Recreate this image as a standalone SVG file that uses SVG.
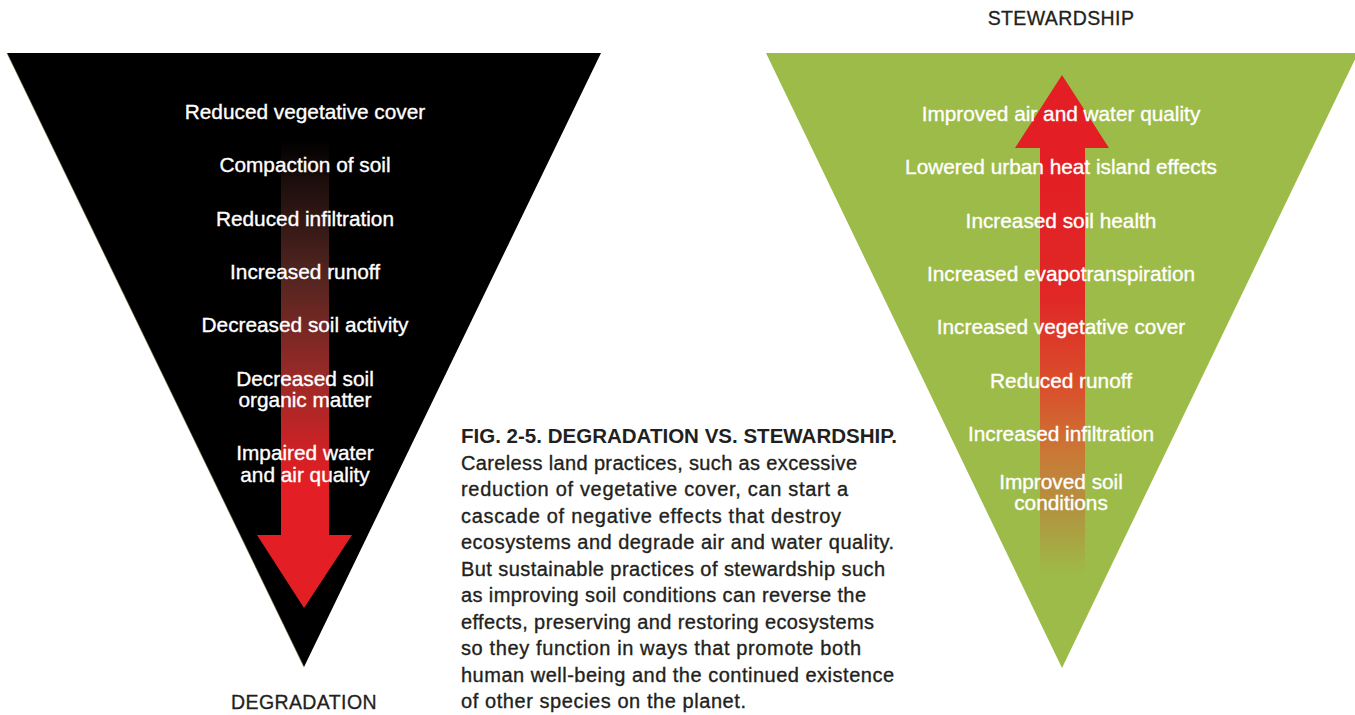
<svg xmlns="http://www.w3.org/2000/svg" width="1355" height="715" viewBox="0 0 1355 715">
<defs>
<linearGradient id="gDown" gradientUnits="userSpaceOnUse" x1="0" y1="140" x2="0" y2="480">
<stop offset="0" stop-color="#000000"/>
<stop offset="0.12" stop-color="#1c0e0c"/>
<stop offset="0.4" stop-color="#522520"/>
<stop offset="0.7" stop-color="#9a2a27"/>
<stop offset="1" stop-color="#e31e24"/>
</linearGradient>
<linearGradient id="gUp" gradientUnits="userSpaceOnUse" x1="0" y1="150" x2="0" y2="575">
<stop offset="0" stop-color="#e31e24"/>
<stop offset="0.35" stop-color="#e02826"/>
<stop offset="0.58" stop-color="#d8542c"/>
<stop offset="0.72" stop-color="#c97a36"/>
<stop offset="0.86" stop-color="#b09640"/>
<stop offset="1" stop-color="#9dbb48"/>
</linearGradient>
<style>
.lbl{font-family:"Liberation Sans",Arial,sans-serif;font-size:20.8px;fill:#ffffff;text-anchor:middle;stroke:#ffffff;stroke-width:0.35px}
.ttl{font-family:"Liberation Sans",Arial,sans-serif;font-size:19.5px;fill:#231f20;text-anchor:middle;stroke:#231f20;stroke-width:0.3px;letter-spacing:0.4px}
.cap{font-family:"Liberation Sans",Arial,sans-serif;font-size:20px;fill:#231f20;stroke:#231f20;stroke-width:0.35px}
.capb{font-family:"Liberation Sans",Arial,sans-serif;font-size:20px;font-weight:bold;fill:#231f20}
</style>
</defs>
<rect width="1355" height="715" fill="#ffffff"/>
<g id="degradation-triangle">
<polygon points="7,53 601,53 304,667" fill="#000000"/>
<line x1="7" y1="53" x2="304" y2="667" stroke="#7a6a3a" stroke-width="0.8" opacity="0.7"/>
</g>
<g id="stewardship-triangle">
<polygon points="766,53 1358,53 1062,668" fill="#9dbb48"/>
</g>
<g id="arrows">
<polygon points="281,140 329,140 329,535 352,535 304,608 257,535 281,535" fill="url(#gDown)"/>
<polygon points="1062,75 1109,148 1085,148 1085,575 1040,575 1040,148 1015,148" fill="url(#gUp)"/>
</g>
<g id="degradation-items">
<text class="lbl" x="305" y="119">Reduced vegetative cover</text>
<text class="lbl" x="305" y="172">Compaction of soil</text>
<text class="lbl" x="305" y="226">Reduced infiltration</text>
<text class="lbl" x="305" y="279">Increased runoff</text>
<text class="lbl" x="305" y="332">Decreased soil activity</text>
<text class="lbl" x="305" y="386">Decreased soil</text>
<text class="lbl" x="305" y="407">organic matter</text>
<text class="lbl" x="305" y="460">Impaired water</text>
<text class="lbl" x="305" y="482">and air quality</text>
</g>
<g id="stewardship-items">
<text class="lbl" x="1061" y="121">Improved air and water quality</text>
<text class="lbl" x="1061" y="174">Lowered urban heat island effects</text>
<text class="lbl" x="1061" y="228">Increased soil health</text>
<text class="lbl" x="1061" y="281">Increased evapotranspiration</text>
<text class="lbl" x="1061" y="334">Increased vegetative cover</text>
<text class="lbl" x="1061" y="388">Reduced runoff</text>
<text class="lbl" x="1061" y="441">Increased infiltration</text>
<text class="lbl" x="1061" y="489">Improved soil</text>
<text class="lbl" x="1061" y="510">conditions</text>
</g>
<g id="label-degradation"><text class="ttl" x="304" y="709">DEGRADATION</text></g>
<g id="label-stewardship"><text class="ttl" x="1061" y="25">STEWARDSHIP</text></g>
<g id="caption">
<text class="capb" x="461" y="443" textLength="436" lengthAdjust="spacingAndGlyphs">FIG. 2-5.  DEGRADATION VS. STEWARDSHIP.</text>
<text class="cap" x="461" y="470" textLength="396" lengthAdjust="spacing">Careless land practices, such as excessive</text>
<text class="cap" x="461" y="496" textLength="387" lengthAdjust="spacing">reduction of vegetative cover, can start a</text>
<text class="cap" x="461" y="523" textLength="380" lengthAdjust="spacing">cascade of negative effects that destroy</text>
<text class="cap" x="461" y="549" textLength="433" lengthAdjust="spacing">ecosystems and degrade air and water quality.</text>
<text class="cap" x="461" y="576" textLength="424" lengthAdjust="spacing">But sustainable practices of stewardship such</text>
<text class="cap" x="461" y="602" textLength="405" lengthAdjust="spacing">as improving soil conditions can reverse the</text>
<text class="cap" x="461" y="629" textLength="413" lengthAdjust="spacing">effects, preserving and restoring ecosystems</text>
<text class="cap" x="461" y="655" textLength="400" lengthAdjust="spacing">so they function in ways that promote both</text>
<text class="cap" x="461" y="682" textLength="433" lengthAdjust="spacing">human well-being and the continued existence</text>
<text class="cap" x="461" y="708" textLength="285" lengthAdjust="spacing">of other species on the planet.</text>
</g>
</svg>
